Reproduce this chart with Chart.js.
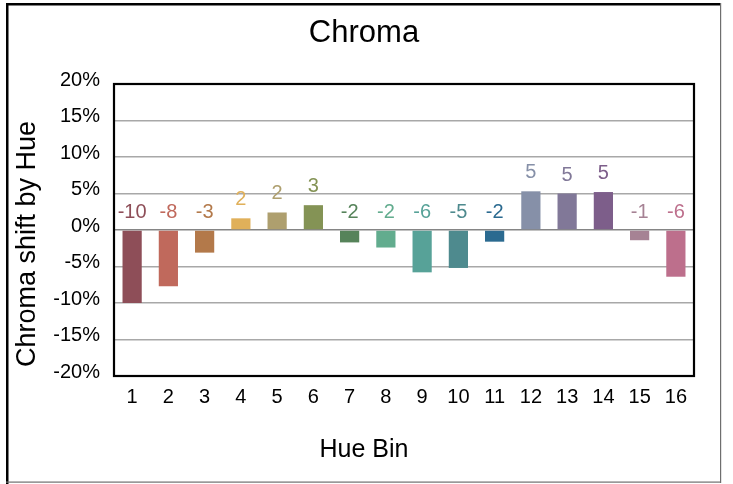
<!DOCTYPE html>
<html><head><meta charset="utf-8">
<script src="https://cdn.jsdelivr.net/npm/chart.js@4.4.1/dist/chart.umd.min.js"></script>
<style>html,body{margin:0;padding:0;background:#fff;overflow:hidden}#wrap{position:absolute;left:0;top:0;width:733px;height:484px}</style>
</head><body><div id="wrap"><canvas id="c" width="733" height="484"></canvas></div>
<script>
const categories = ['1','2','3','4','5','6','7','8','9','10','11','12','13','14','15','16'];
const chromaShift = [-10.0, -7.7, -3.1, 1.6, 2.4, 3.4, -1.7, -2.4, -5.8, -5.2, -1.6, 5.3, 5.0, 5.2, -1.4, -6.4];
const valueLabels = ['-10','-8','-3','2','2','3','-2','-2','-6','-5','-2','5','5','5','-1','-6'];
const barColors = ['#8E4E58','#C0695C','#B3794A','#E0B05A','#AE9F6E','#849355','#56835A','#62AC8E',
                   '#57A298','#4E8A8E','#2B6A90','#8690A8','#817898','#7D5E8A','#A68294','#BD6F8C'];
const yTickValues = [-20,-15,-10,-5,0,5,10,15,20];
const chartTitle = 'Chroma';
const xTitle = 'Hue Bin';
const yTitle = 'Chroma shift by Hue';

const FONT = '"Liberation Sans", Arial, sans-serif';

const decor = {
  id: 'decor',
  beforeDraw(chart) {
    const ctx = chart.ctx;
    ctx.save();
    ctx.fillStyle = '#fff';
    ctx.fillRect(0, 0, chart.width, chart.height);
    ctx.fillStyle = '#000';
    ctx.fillRect(6, 3, 2.5, 481);
    ctx.fillRect(6, 3, 715, 2.5);
    ctx.fillStyle = '#6e6e6e';
    ctx.fillRect(720, 3, 1.2, 480);
    ctx.fillRect(6, 481.5, 715, 1.2);
    ctx.restore();
  },
  afterDraw(chart) {
    const ctx = chart.ctx;
    const a = chart.chartArea;
    ctx.save();
    ctx.strokeStyle = '#000';
    ctx.lineWidth = 2.2;
    ctx.strokeRect(a.left, a.top, a.right - a.left, a.bottom - a.top);
    ctx.fillStyle = '#000';
    ctx.textAlign = 'center';
    ctx.textBaseline = 'alphabetic';
    ctx.font = '31px ' + FONT;
    ctx.fillText(chartTitle, 364, 42);
    ctx.font = '25px ' + FONT;
    ctx.fillText(xTitle, 364, 457);
    ctx.translate(35, 244);
    ctx.rotate(-Math.PI / 2);
    ctx.font = '27px ' + FONT;
    ctx.fillText(yTitle, 0, 0);
    ctx.restore();
  },
  afterDatasetsDraw(chart) {
    const ctx = chart.ctx;
    const meta = chart.getDatasetMeta(0);
    ctx.save();
    ctx.font = '20px ' + FONT;
    ctx.textAlign = 'center';
    ctx.textBaseline = 'alphabetic';
    meta.data.forEach((bar, i) => {
      const top = Math.min(bar.y, bar.base);
      ctx.fillStyle = barColors[i];
      ctx.fillText(valueLabels[i], bar.x, top - 13);
    });
    ctx.restore();
  }
};

new Chart(document.getElementById('c'), {
  type: 'bar',
  data: {
    labels: categories,
    datasets: [{
      data: chromaShift,
      backgroundColor: barColors,
      borderWidth: 0,
      categoryPercentage: 1,
      barPercentage: 0.53
    }]
  },
  options: {
    responsive: false,
    animation: false,
    layout: { padding: { left: 10, top: 84, right: 39, bottom: 68 } },
    plugins: { legend: { display: false }, tooltip: { enabled: false }, title: { display: false } },
    scales: {
      x: {
        grid: { display: false, drawTicks: false },
        border: { display: false },
        ticks: { color: '#000', font: { family: FONT, size: 20 }, padding: 9, maxRotation: 0, autoSkip: false },
        afterFit(s) { s.height = 40; }
      },
      y: {
        min: -20, max: 20,
        afterBuildTicks(s) { s.ticks = yTickValues.map(v => ({ value: v })); },
        grid: {
          drawTicks: false,
          color: ctx => (ctx.tick && ctx.tick.value === 0) ? '#858585' : '#a8a8a8',
          lineWidth: 1.5
        },
        border: { display: false },
        ticks: { color: '#000', font: { family: FONT, size: 20 }, padding: 14, labelOffset: -4,
                 callback: v => v + '%' },
        afterFit(s) { s.width = 104; }
      }
    }
  },
  plugins: [decor]
});
</script>
</body></html>
